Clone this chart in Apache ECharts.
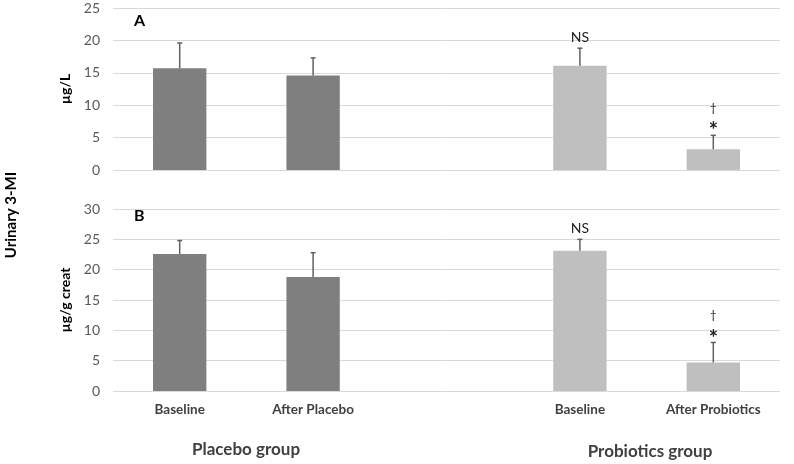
<!DOCTYPE html>
<html><head><meta charset="utf-8">
<script src="https://cdn.jsdelivr.net/npm/echarts@6/dist/echarts.min.js"></script>
<style>html,body{margin:0;padding:0;background:#fff}#c{width:794px;height:464px}</style>
</head><body><div id="c"></div>
<script>
const categories = ['Baseline', 'After Placebo', '', 'Baseline', 'After Probiotics'];
const groupLabels = ['Placebo group', 'Probiotics group'];
const meanA = [15.7, 14.6, null, 16.1, 3.2];
const errA  = [3.9, 2.7, null, 2.7, 2.15];
const meanB = [22.6, 18.8, null, 23.1, 4.7];
const errB  = [2.2, 4.0, null, 1.9, 3.3];
const notesA = ['', '', '', 'NS', '†*'];
const notesB = ['', '', '', 'NS', '†*'];
const yTicksA = [0, 25, 5];
const yTicksB = [0, 30, 5];

const dark = '#7f7f7f', light = '#bfbfbf';
const FONT = 'Lato, "Open Sans", sans-serif';

function barData(means) {
  return means.map((v, i) => v == null ? null : { value: v, itemStyle: { color: i < 2 ? dark : light } });
}
function errData(means, errs) {
  const out = [];
  means.forEach((v, i) => { if (v != null) out.push([i, v, errs[i]]); });
  return out;
}
function errRender(notes) {
  return function (params, api) {
    const i = api.value(0), m = api.value(1), e = api.value(2);
    const p0 = api.coord([i, m]);
    const p1 = api.coord([i, m + e]);
    const ch = [
      { type: 'line', shape: { x1: p0[0], y1: p0[1], x2: p1[0], y2: p1[1] }, style: { stroke: '#606060', lineWidth: 1.5 } },
      { type: 'line', shape: { x1: p1[0] - 2.5, y1: p1[1], x2: p1[0] + 2.5, y2: p1[1] }, style: { stroke: '#606060', lineWidth: 1.5 } }
    ];
    const n = notes[i];
    if (n === 'NS') {
      ch.push({ type: 'text', style: { text: 'NS', x: p1[0], y: p1[1] - 11, align: 'center', verticalAlign: 'middle', font: '14px ' + FONT, fill: '#222' } });
    } else if (n === '†*') {
      ch.push({ type: 'text', style: { text: '*', x: p1[0], y: p1[1] - 4, align: 'center', verticalAlign: 'middle', font: 'bold 22px ' + FONT, fill: '#222' } });
      ch.push({ type: 'text', style: { text: '†', x: p1[0], y: p1[1] - 27, align: 'center', verticalAlign: 'middle', font: '12px ' + FONT, fill: '#222' } });
    }
    return { type: 'group', children: ch };
  };
}

const chart = echarts.init(document.getElementById('c'), null, { renderer: 'canvas' });
const yAxisCommon = {
  type: 'value',
  axisLine: { show: false }, axisTick: { show: false },
  axisLabel: { color: '#595959', fontSize: 14, fontFamily: FONT, margin: 13 },
  splitLine: { lineStyle: { color: '#d9d9d9', width: 1 } },
  nameLocation: 'middle', nameRotate: 90,
  nameTextStyle: { fontWeight: 'bold', fontSize: 14, color: '#000', fontFamily: FONT }
};
chart.setOption({
  animation: false,
  grid: [
    { left: 113, right: 14, top: 8, height: 162 },
    { left: 113, right: 14, top: 209, height: 182 }
  ],
  xAxis: [
    { type: 'category', gridIndex: 0, data: categories, axisLine: { show: false }, axisTick: { show: false }, axisLabel: { show: false } },
    { type: 'category', gridIndex: 1, data: categories, axisLine: { show: false }, axisTick: { show: false },
      axisLabel: { color: '#404040', fontSize: 13.5, fontWeight: 'bold', fontFamily: FONT, margin: 12, interval: 0 } }
  ],
  yAxis: [
    Object.assign({}, yAxisCommon, { gridIndex: 0, min: yTicksA[0], max: yTicksA[1], interval: yTicksA[2], name: 'µg/L', nameGap: 38 }),
    Object.assign({}, yAxisCommon, { gridIndex: 1, min: yTicksB[0], max: yTicksB[1], interval: yTicksB[2], name: 'µg/g creat', nameGap: 38 })
  ],
  series: [
    { type: 'bar', xAxisIndex: 0, yAxisIndex: 0, data: barData(meanA), barWidth: '40%' },
    { type: 'bar', xAxisIndex: 1, yAxisIndex: 1, data: barData(meanB), barWidth: '40%' },
    { type: 'custom', xAxisIndex: 0, yAxisIndex: 0, data: errData(meanA, errA), renderItem: errRender(notesA), encode: { x: 0, y: 1 }, z: 5 },
    { type: 'custom', xAxisIndex: 1, yAxisIndex: 1, data: errData(meanB, errB), renderItem: errRender(notesB), encode: { x: 0, y: 1 }, z: 5 }
  ],
  graphic: [
    { type: 'text', left: 134, top: 13, style: { text: 'A', font: 'bold 16px ' + FONT, fill: '#000' } },
    { type: 'text', left: 134, top: 208, style: { text: 'B', font: 'bold 16px ' + FONT, fill: '#000' } },
    { type: 'text', x: 11, y: 215, rotation: Math.PI / 2, style: { text: 'Urinary 3-MI', align: 'center', verticalAlign: 'middle', font: 'bold 15px ' + FONT, fill: '#000' } },
    { type: 'text', x: 246, y: 450, style: { text: groupLabels[0], align: 'center', verticalAlign: 'middle', font: 'bold 17px ' + FONT, fill: '#404040' } },
    { type: 'text', x: 650, y: 452, style: { text: groupLabels[1], align: 'center', verticalAlign: 'middle', font: 'bold 17px ' + FONT, fill: '#404040' } }
  ]
});
</script></body></html>
